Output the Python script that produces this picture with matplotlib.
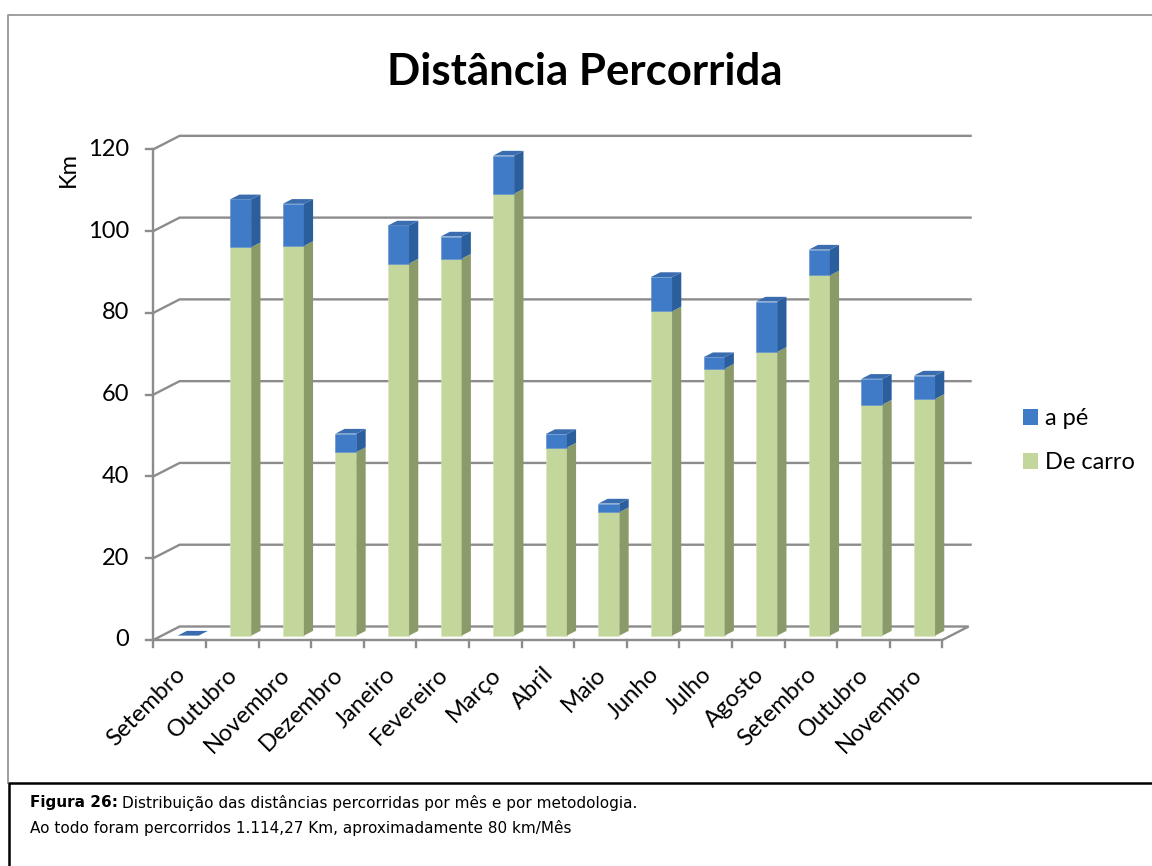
import matplotlib.pyplot as plt
from matplotlib.patches import Polygon, Rectangle
from matplotlib.lines import Line2D

# --- Dados ---
meses = ["Setembro", "Outubro", "Novembro", "Dezembro", "Janeiro", "Fevereiro",
         "Março", "Abril", "Maio", "Junho", "Julho", "Agosto", "Setembro",
         "Outubro", "Novembro"]
de_carro = [0, 95.0, 95.3, 44.9, 91.0, 92.2, 108.1, 46.0, 30.2, 79.3, 65.3,
            69.4, 88.1, 56.5, 57.9]
a_pe = [0, 11.7, 10.3, 4.5, 9.3, 5.4, 9.3, 3.3, 2.1, 8.4, 2.8, 12.3, 6.3,
        6.3, 5.7]
y_ticks = [0, 20, 40, 60, 80, 100, 120]

titulo = "Distância Percorrida"
legenda = ["a pé", "De carro"]
legenda_linha1 = "Distribuição das distâncias percorridas por mês e por metodologia."
legenda_linha2 = "Ao todo foram percorridos 1.114,27 Km, aproximadamente 80 km/Mês"

# --- Cores ---
VERDE = "#c3d69b"
VERDE_LADO = "#8a9a68"
AZUL = "#3f7bc6"
AZUL_LADO = "#2b5e9c"
AZUL_TOPO = "#3a6cb0"
CINZA = "#8c8c8c"

W_PX, H_PX = 1152, 866
fig = plt.figure(figsize=(W_PX / 100, H_PX / 100), dpi=100)

# escala: x=0 no pixel 153.3, 52.6 px por categoria; y=0 no pixel 640, 4.089 px por km
X0_PX, UX = 153.3, 52.6
Y0_PX, UY = 640.0, 4.089
XMIN, XMAX = -1.0, 16.0
YMIN, YMAX = -5.0, 125.0
left = (X0_PX + XMIN * UX) / W_PX
width = (XMAX - XMIN) * UX / W_PX
bottom = 1 - (Y0_PX - YMIN * UY) / H_PX
height = (YMAX - YMIN) * UY / H_PX
ax = fig.add_axes([left, bottom, width, height])
ax.set_xlim(XMIN, XMAX)
ax.set_ylim(YMIN, YMAX)
ax.axis("off")

fonte = ["Lato", "DejaVu Sans"]
n = len(meses)
FS = 17

# profundidade do "piso" (efeito 3D)
DX, DY = 0.5, 3.3
# barra: largura, profundidade e deslocamento dentro do piso
BW = 0.4
BF = 0.35
BDX, BDY = DX * BF, DY * BF
OX, OY = DX * (1 - BF) / 2, DY * (1 - BF) / 2

lw_grade = 1.7

# parede de fundo: linhas de grade
for v in y_ticks:
    if v == 0:
        continue
    ax.plot([0, DX, n + DX + 0.06], [v, v + DY, v + DY], color=CINZA,
            lw=lw_grade, zorder=1, solid_capstyle="butt")

# piso
piso = Polygon([(0, 0), (n, 0), (n + DX, DY), (DX, DY)], closed=True,
               facecolor="none", edgecolor=CINZA, lw=lw_grade, zorder=1)
ax.add_patch(piso)

# eixo y
ax.plot([0, 0], [0, y_ticks[-1]], color=CINZA, lw=lw_grade, zorder=2)
for v in y_ticks:
    ax.plot([-0.14, 0], [v, v], color=CINZA, lw=lw_grade, zorder=2)
    ax.text(-0.46, v, str(v), ha="right", va="center", fontsize=FS,
            family=fonte, color="black")
ax.text(-1.62, 115, "Km", rotation=90, ha="center", va="center",
        fontsize=FS, family=fonte)

# eixo x: marcas
for i in range(n + 1):
    ax.plot([i, i], [0, -1.6], color=CINZA, lw=lw_grade, zorder=2)


def segmento(i, base, topo, cor, cor_lado, cor_topo, desenha_topo):
    x0 = i + 0.5 - BW / 2 + OX
    x1 = x0 + BW
    y0 = base + OY
    y1 = topo + OY
    if topo > base:
        ax.bar(x0 + BW / 2, topo - base, bottom=y0, width=BW, color=cor,
               edgecolor="#d8e4bc" if cor == VERDE else "#5a8ccc",
               lw=0.4, zorder=3)
        lado = Polygon([(x1, y0), (x1 + BDX, y0 + BDY), (x1 + BDX, y1 + BDY),
                        (x1, y1)], closed=True, facecolor=cor_lado,
                       edgecolor="none", zorder=3)
        ax.add_patch(lado)
    if desenha_topo:
        tampa = Polygon([(x0, y1), (x1, y1), (x1 + BDX, y1 + BDY),
                         (x0 + BDX, y1 + BDY)], closed=True,
                        facecolor=cor_topo, edgecolor="none", zorder=3)
        ax.add_patch(tampa)


for i in range(n):
    c = de_carro[i]
    p = a_pe[i]
    segmento(i, 0, c, VERDE, VERDE_LADO, VERDE, False)
    segmento(i, c, c + p, AZUL, AZUL_LADO, AZUL_TOPO, True)

# rótulos do eixo x
for i, m in enumerate(meses):
    ax.text(i + 0.54, -7.6, m, rotation=45, rotation_mode="anchor",
            ha="right", va="center", fontsize=FS, family=fonte)

# título
fig.text(585 / W_PX, 1 - 72 / H_PX, titulo, ha="center", va="center",
         fontsize=31.5, fontweight="bold", family=fonte)

# legenda
handles = [Rectangle((0, 0), 1, 1, facecolor=AZUL, edgecolor="none"),
           Rectangle((0, 0), 1, 1, facecolor=VERDE, edgecolor="none")]
fig.legend(handles, legenda, loc="upper left",
           bbox_to_anchor=(1002 / W_PX, 1 - 387 / H_PX), frameon=False,
           prop={"family": fonte, "size": FS}, handlelength=0.62,
           handleheight=0.62, handletextpad=0.3, labelspacing=0.98)

# molduras
def px(x, y):
    return x / W_PX, 1 - y / H_PX

fig.add_artist(Line2D(*zip(px(8, 783), px(8, 15), px(1152, 15)),
                      color="#8f8f8f", lw=1.2))
fig.add_artist(Line2D(*zip(px(1152, 783), px(9, 783), px(9, 866)),
                      color="black", lw=1.8))

# texto da figura
FC = 11
t1 = fig.text(30 / W_PX, 1 - 803 / H_PX, "Figura 26:", ha="left",
              va="center", fontsize=FC, fontweight="bold",
              family="DejaVu Sans")
fig.canvas.draw()
bb = t1.get_window_extent()
fig.text((bb.x1 + 4) / W_PX, 1 - 803 / H_PX, legenda_linha1, ha="left",
         va="center", fontsize=FC, family="DejaVu Sans")
fig.text(30 / W_PX, 1 - 828 / H_PX, legenda_linha2, ha="left", va="center",
         fontsize=FC, family="DejaVu Sans")

fig.savefig("out.png", dpi=100)
